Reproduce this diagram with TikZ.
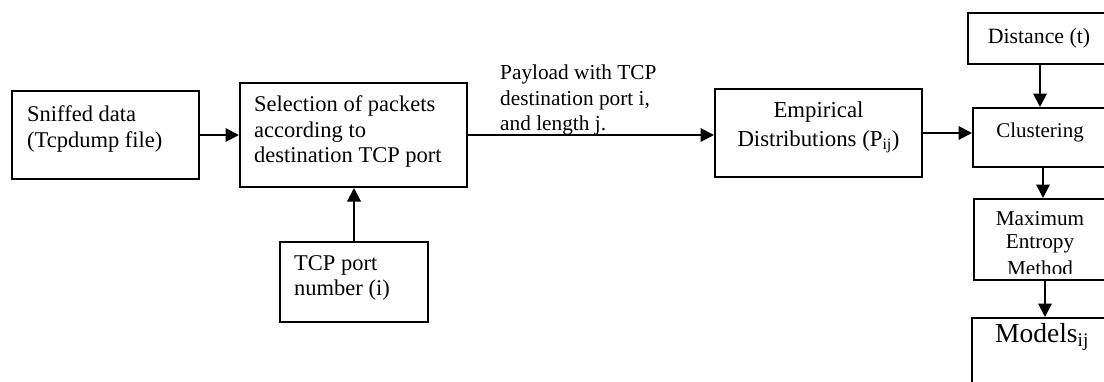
\documentclass[tikz,border=0pt]{standalone}
\usepackage{fontspec}
\setmainfont{Liberation Serif}
\usetikzlibrary{arrows.meta}
\begin{document}
\begin{tikzpicture}[x=1pt,y=-1pt,
  blk/.style={draw=black,line width=2pt,rectangle,inner sep=0pt},
  lbl/.style={anchor=base west,inner sep=0pt,font=\fontsize{22.5}{27}\selectfont},
  clbl/.style={anchor=base,inner sep=0pt,font=\fontsize{21.5}{26}\selectfont},
  flow/.style={line width=2pt,-{Triangle[length=13.5pt,width=13.5pt]}}]
\useasboundingbox (0,0) rectangle (1104,381);
\clip (0,0) rectangle (1104,381);

% left part of the chain
\node[blk,minimum width=187pt,minimum height=88pt] (sniff) at (105.5,135) {};
\node[lbl] (sniffA) at (27,121) {Sniffed data};
\node[lbl] (sniffB) at (27,147) {(Tcpdump file)};

\node[blk,minimum width=227pt,minimum height=104pt] (sel) at (353.5,135) {};
\node[lbl] (selA) at (254,111) {Selection of packets};
\node[lbl] (selB) at (254,137) {according to};
\node[lbl] (selC) at (254,162) {destination TCP port};

\node[blk,minimum width=148pt,minimum height=80pt] (port) at (354,282) {};
\node[lbl] (portA) at (294,270) {TCP port};
\node[lbl] (portB) at (294,295) {number (i)};

\node[lbl,font=\fontsize{21.3}{25}\selectfont] (payA) at (500,79) {Payload with TCP};
\node[lbl,font=\fontsize{21.3}{25}\selectfont] (payB) at (500,105) {destination port i,};
\node[lbl,font=\fontsize{21.3}{25}\selectfont] (payC) at (500,130) {and length j.};

\node[blk,minimum width=207pt,minimum height=88pt] (emp) at (818.5,133) {};
\node[clbl,font=\fontsize{22.8}{27}\selectfont] (empA) at (818.5,117) {Empirical};
\node[clbl,font=\fontsize{22.8}{27}\selectfont] (empB) at (818.5,146) {Distributions (P\textsubscript{ij})};

% right column, running off the page edge
\node[blk,minimum width=144pt,minimum height=51pt] (dist) at (1040,38.5) {};
\node[clbl,font=\fontsize{21.8}{26}\selectfont] (distA) at (1039,43) {Distance (t)};

\node[blk,minimum width=139pt,minimum height=59pt] (clus) at (1042.5,137.5) {};
\node[clbl,font=\fontsize{21}{25}\selectfont] (clusA) at (1040,137) {Clustering};

\node[blk,minimum width=138pt,minimum height=81pt] (mem) at (1043,239.5) {};
\begin{scope}
  \clip (974,199) rectangle (1110,273);
  \node[clbl,font=\fontsize{21.2}{25}\selectfont] (memA) at (1040,225) {Maximum};
  \node[clbl,font=\fontsize{21.2}{25}\selectfont] (memB) at (1040,248.5) {Entropy};
  \node[clbl,font=\fontsize{21.2}{25}\selectfont] (memC) at (1040,275.5) {Method};
\end{scope}

\node[blk,minimum width=140pt,minimum height=80pt] (mod) at (1042,358) {};
\node[clbl,font=\fontsize{27.5}{32}\selectfont] (modA) at (1042,342) {Models\textsubscript{ij}};

% connectors
\draw[flow] (sniff.east) -- (sniff.east -| sel.west);
\draw[flow] (port.north) -- (port.north |- sel.south);
\draw[flow] (sel.east) -- (sel.east -| emp.west);
\draw[flow] (emp.east) -- (emp.east -| clus.west);
\draw[flow] (dist.south) -- (dist.south |- clus.north);
\draw[flow] ([xshift=3pt]dist.south |- clus.south) -- ([xshift=3pt]dist.south |- mem.north);
\draw[flow] ([xshift=5pt]dist.south |- mem.south) -- ([xshift=5pt]dist.south |- mod.north);
\end{tikzpicture}
\end{document}
